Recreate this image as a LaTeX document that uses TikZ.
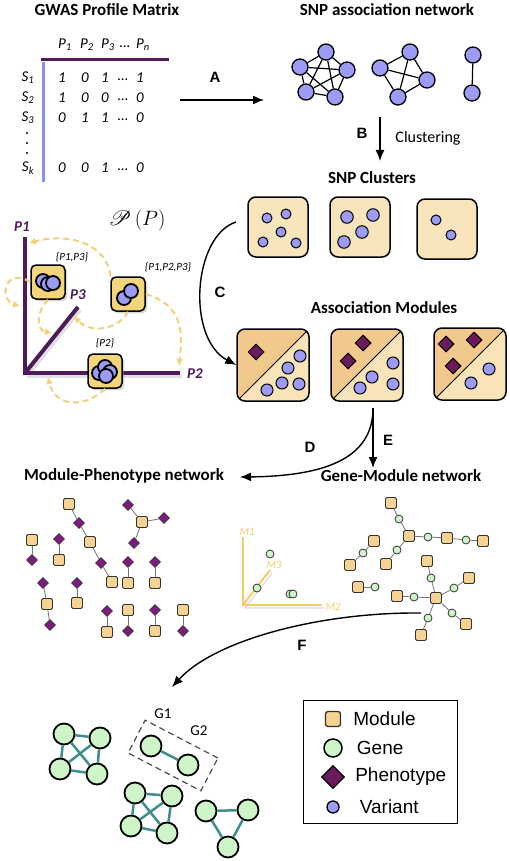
\documentclass[tikz,border=0pt]{standalone}
\usepackage{fontspec}
\usepackage{mathrsfs}
\setmainfont{Carlito}
\newfontfamily\arialfont{Liberation Sans}
\usetikzlibrary{arrows.meta}
\usetikzlibrary{shapes.geometric}
\usetikzlibrary{shadows}
\usetikzlibrary{positioning}
\usetikzlibrary{calc}
\definecolor{snpblue}{HTML}{9C9CF7}
\definecolor{axispurple}{HTML}{4E1A5A}
\definecolor{rowblue}{HTML}{8C8CFF}
\definecolor{clusterfill}{HTML}{F8E5BC}
\definecolor{moddark}{HTML}{F2C98C}
\definecolor{modlight}{HTML}{F8E4B8}
\definecolor{phenodark}{HTML}{6B1B5C}
\definecolor{netpurple}{HTML}{801A80}
\definecolor{netsquare}{HTML}{F6D392}
\definecolor{genegreen}{HTML}{CDF5C8}
\definecolor{edgeteal}{HTML}{3E8E8E}
\definecolor{setgold}{HTML}{F3D57B}
\definecolor{dashgold}{HTML}{F2D07A}
\definecolor{maxis}{HTML}{F5CB6A}
\tikzset{
  % Common styles for the figure
  heading/.style={font=\bfseries\fontsize{17}{20}\selectfont},
  steptag/.style={font=\arialfont\bfseries\fontsize{15}{18}\selectfont},
  line/.style={draw, line width=1.4pt, -{Latex[length=11pt,width=9pt]}},
  mtext/.style={font=\itshape\fontsize{15}{18}\selectfont, inner sep=0pt}
}
\begin{document}
\begin{tikzpicture}[x=1pt, y=-1pt]
    \useasboundingbox (0,0) rectangle (510,861);
    % Define styles
    \tikzstyle{snp} = [circle, draw, line width=1.3pt, fill=snpblue, minimum size=16pt, inner sep=0pt]
    \tikzstyle{snpedge} = [draw, line width=1.2pt]
    \tikzstyle{dot} = [circle, draw, line width=1pt, fill=snpblue, minimum size=#1, inner sep=0pt]
    \tikzstyle{clusterbox} = [rectangle, draw, line width=1.5pt, fill=clusterfill, rounded corners=8pt, minimum size=60pt]
    \tikzstyle{modbox} = [rectangle, draw, line width=1.5pt, fill=moddark, rounded corners=8pt, minimum size=72pt,
      path picture={\fill[modlight] (path picture bounding box.south west) -- (path picture bounding box.north east) -- (path picture bounding box.south east) -- cycle;
        \draw[line width=1pt] (path picture bounding box.south west) -- (path picture bounding box.north east);}]
    \tikzstyle{pheno} = [diamond, draw, line width=1pt, fill=phenodark, minimum size=16pt, inner sep=0pt]
    \tikzstyle{setbox} = [rectangle, draw, line width=1.5pt, fill=setgold, rounded corners=5pt, minimum size=34pt, drop shadow={opacity=0.3}]
    \tikzstyle{blob} = [circle, draw, line width=1.8pt, fill=snpblue, minimum size=14pt, inner sep=0pt]
    \tikzstyle{setlab} = [font=\itshape\fontsize{11}{13}\selectfont, inner sep=0pt]
    \tikzstyle{axlab} = [font=\bfseries\itshape\fontsize{15}{18}\selectfont, text=axispurple, inner sep=0pt]
    \tikzstyle{setarrow} = [draw=dashgold, line width=2pt, dash pattern=on 6pt off 4pt, -{Latex[length=7pt,width=7pt]}]
    \tikzstyle{msq} = [rectangle, draw=black!80, line width=0.8pt, fill=netsquare, rounded corners=1.5pt, minimum size=11pt, inner sep=0pt]
    \tikzstyle{mdia} = [diamond, draw=black!80, line width=0.7pt, fill=netpurple, minimum size=11pt, inner sep=0pt]
    \tikzstyle{gcirc} = [circle, draw=black!80, line width=0.8pt, fill=genegreen, minimum size=8pt, inner sep=0pt]
    \tikzstyle{netedge} = [draw=black!55, line width=0.8pt]
    \tikzstyle{gene} = [circle, draw, line width=1.8pt, fill=genegreen, minimum size=21pt, inner sep=0pt]
    \tikzstyle{geneedge} = [draw=edgeteal, line width=2.5pt]
    \tikzstyle{legtext} = [font=\arialfont\fontsize{19}{22}\selectfont, inner sep=0pt]

    % Titles
    \node [heading] (gwas) at (107,10) {GWAS Profile Matrix};
    \node [heading] (snpnet) at (387,10) {SNP association network};
    \node [heading] (snpclu) at (372,178) {SNP Clusters};
    \node [heading] (assoc) at (384,308) {Association Modules};
    \node [heading] (modphen) at (124,476) {Module-Phenotype network};
    \node [heading] (genemod) at (401,476) {Gene-Module network};

    % Profile matrix
    \draw [axispurple, line width=3pt] (41,60) -- (169,60);
    \draw [rowblue, line width=3pt] (43,62) -- (43,182);
    \foreach \lab/\x in {1/65, 2/87, 3/108, n/143}
        \node [mtext] (p\lab) at (\x,45) {P\textsubscript{\lab}};
    \node [mtext] (pdots) at (125,47) {…};
    \foreach \lab/\y/\a/\b/\c/\d in {1/78/1/0/1/1, 2/98/1/0/0/0, 3/118/0/1/1/0, k/168/0/0/1/0} {
        \node [mtext] (s\lab) at (28,\y) {S\textsubscript{\lab}};
        \node [mtext] (v\lab a) at (62,\y) {\a};
        \node [mtext] (v\lab b) at (85,\y) {\b};
        \node [mtext] (v\lab c) at (105,\y) {\c};
        \node [mtext] (v\lab e) at (123,\y+2) {…};
        \node [mtext] (v\lab d) at (140,\y) {\d};
    }
    \foreach \y in {133,143,153}
        \fill (27,\y) circle (1.1pt);

    % SNP association network
    \foreach \n/\x/\y in {a1/326/52, a2/347/70, a3/335/97, a4/306/92, a5/300/67, b1/410/52, b2/427/80, b3/398/97, b4/380/68, c1/473/55, c2/472/93}
        \node [snp] (\n) at (\x,\y) {};
    \foreach \a/\b in {a1/a2, a1/a3, a1/a4, a1/a5, a2/a3, a2/a4, a2/a5, a3/a4, a3/a5, a4/a5, b1/b2, b1/b3, b1/b4, b2/b3, b2/b4, b3/b4, c1/c2}
        \path [snpedge] (\a) -- (\b);

    % Steps A and B
    \coordinate (astart) at (180,100);
    \coordinate (aend) at (264,100);
    \path [line] (astart) -- (aend);
    \node [steptag] (ta) at (215,77) {A};
    \coordinate (bstart) at (380,117);
    \coordinate (bend) at (380,161);
    \path [line] (bstart) -- (bend);
    \node [steptag] (tb) at (362,133) {B};
    \node [font=\fontsize{16}{19}\selectfont] (clust) at (428,138) {Clustering};

    % SNP clusters
    \node [clusterbox] (sc1) at (278,227) {};
    \node [clusterbox] (sc2) at (360,227) {};
    \node [clusterbox] (sc3) at (447,229) {};
    \foreach \x/\y [count=\i] in {267/218, 286/214, 281/232, 263/242, 296/243, 436/220, 451/235}
        \node [dot=10pt] (d\i) at (\x,\y) {};
    \foreach \x/\y [count=\i] in {347/217, 373/215, 362/232, 344/242}
        \node [dot=12.5pt] (e\i) at (\x,\y) {};

    % Association modules
    \node [modbox] (am1) at (273,365) {};
    \node [modbox] (am2) at (367,365) {};
    \node [modbox] (am3) at (470,364) {};
    \foreach \x/\y [count=\i] in {256/352, 363/343, 348/361, 446/344, 474/340, 453/366}
        \node [pheno] (f\i) at (\x,\y) {};
    \foreach \x/\y [count=\i] in {300/356, 288/368, 267/390, 282/383, 299/384, 393/363, 372/377, 360/388, 393/384, 489/369, 471/383}
        \node [dot=12pt] (h\i) at (\x,\y) {};

    % Step C
    \coordinate (cstart) at (236,222);
    \path [line] (cstart) .. controls (193,236) and (186,338) .. (am1.west);
    \node [steptag] (tc) at (220,292) {C};

    % Power set of phenotypes
    \node [font=\fontsize{22}{26}\selectfont] (pset) at (137,220) {$\mathscr{P}\,(P)$};
    \coordinate (origin) at (25,373);
    \coordinate (p1end) at (25,237);
    \coordinate (p2end) at (180,373);
    \coordinate (p3end) at (78,307);
    \draw [black!12, line width=4pt] ($(origin)+(2,3)$) -- ($(p2end)+(2,3)$);
    \draw [black!12, line width=4pt] ($(origin)+(2,3)$) -- ($(p3end)+(2,3)$);
    \draw [axispurple, line width=4pt] (p1end) -- (origin) -- (p2end);
    \draw [axispurple, line width=4pt] (origin) -- (p3end);
    \node [axlab] (lp1) at (22,227) {P1};
    \node [axlab] (lp2) at (195,374) {P2};
    \node [axlab] (lp3) at (78,295) {P3};
    \node [setbox] (s13) at (48,282) {};
    \node [setbox] (s123) at (128,294) {};
    \node [setbox] (s2) at (105,371) {};
    \foreach \dx/\dy in {-5/-1, 0/2, 5/1}
        \node [blob] at ($(s13)+(\dx,\dy)$) {};
    \foreach \dx/\dy in {-4/4, 3/-3}
        \node [blob] at ($(s123)+(\dx,\dy)$) {};
    \foreach \dx/\dy in {-6/2, 0/-4, 5/1, 1/5}
        \node [blob] at ($(s2)+(\dx,\dy)$) {};
    \node [setlab] (l13) at (72,257) {\{P1,P3\}};
    \node [setlab] (l123) at (168,267) {\{P1,P2,P3\}};
    \node [setlab] (l2) at (105,343) {\{P2\}};
    \path [setarrow] (s123.north west) .. controls (108,245) and (70,232) .. ($(p1end)+(4,6)$);
    \path [setarrow] (s13.west) .. controls (4,266) and (-1,300) .. (20,306);
    \path [setarrow] (s13.south) .. controls (36,312) and (36,330) .. (52,333);
    \path [setarrow] (s123.south) .. controls (118,330) and (90,334) .. ($(p3end)+(-4,9)$);
    \path [setarrow] (s123.east) .. controls (182,305) and (183,330) .. ($(p2end)+(-1,-7)$);
    \path [setarrow] (s2.south) .. controls (86,408) and (55,408) .. ($(origin)+(23,4)$);

    % Steps D and E
    \coordinate (destart) at (373,408);
    \coordinate (dend) at (240,477);
    \coordinate (eend) at (373,468);
    \path [line] (destart) .. controls (373,456) and (330,476) .. (dend);
    \path [line] (destart) -- (eend);
    \node [steptag] (td) at (310,447) {D};
    \node [steptag] (te) at (388,440) {E};

    % Module-Phenotype network
    \foreach \n/\x/\y in {mpm1/69/504, mpm2/90/542, mpm3/112/582, mpm4/142/522, mpm5/32/540, mpm6/59/560, mpm7/128/583, mpm8/155/583, mpm9/47/604, mpm10/77/603, mpm11/107/632, mpm12/128/610, mpm13/155/631, mpm14/183/610}
        \node [msq] (\n) at (\x,\y) {};
    \foreach \n/\x/\y in {mpp1/79/523, mpp2/101/563, mpp3/128/505, mpp4/164/518, mpp5/134/543, mpp6/32/560, mpp7/59/539, mpp8/128/562, mpp9/155/562, mpp10/43/583, mpp11/50/625, mpp12/77/583, mpp13/107/611, mpp14/128/631, mpp15/155/610, mpp16/183/631}
        \node [mdia] (\n) at (\x,\y) {};
    \foreach \a/\b in {mpm1/mpp1, mpp1/mpm2, mpm2/mpp2, mpp2/mpm3, mpm4/mpp3, mpm4/mpp4, mpm4/mpp5, mpm5/mpp6, mpp7/mpm6, mpp8/mpm7, mpp9/mpm8, mpp10/mpm9, mpm9/mpp11, mpp12/mpm10, mpp13/mpm11, mpm12/mpp14, mpp15/mpm13, mpm14/mpp16}
        \path [netedge] (\a) -- (\b);

    % Module space
    \coordinate (morigin) at (243,605);
    \coordinate (m1end) at (243,537);
    \coordinate (m2end) at (322,605);
    \coordinate (m3end) at (270,570);
    \draw [black!10, line width=2pt] ($(morigin)+(2,3)$) -- ($(m2end)+(2,3)$);
    \draw [black!10, line width=2pt] ($(morigin)+(2,3)$) -- ($(m3end)+(2,3)$);
    \draw [maxis, line width=2pt] (m1end) -- (morigin) -- (m2end);
    \draw [maxis, line width=2pt] (morigin) -- (m3end);
    \foreach \lab/\x/\y in {M1/247/532, M2/333/607, M3/274/565}
        \node [font=\itshape\fontsize{11}{13}\selectfont, text=maxis, inner sep=0pt] (l\lab) at (\x,\y) {\lab};
    \foreach \x/\y [count=\i] in {270/554, 257/588, 290/594, 293/594}
        \node [gcirc] (mp\i) at (\x,\y) {};

    % Gene-Module network
    \foreach \n/\x/\y in {gmm1/391/503, gmm2/409/536, gmm3/447/538, gmm4/483/541, gmm5/386/564, gmm6/374/541, gmm7/350/565, gmm8/358/587, gmm9/436/598, gmm10/427/561, gmm11/469/578, gmm12/397/596, gmm13/466/624, gmm14/421/635}
        \node [msq] (\n) at (\x,\y) {};
    \foreach \n/\x/\y in {gmg1/399/519, gmg2/428/537, gmg3/466/540, gmg4/397/550, gmg5/363/553, gmg6/375/587, gmg7/431/578, gmg8/454/588, gmg9/414/597, gmg10/452/613, gmg11/428/618}
        \node [gcirc] (\n) at (\x,\y) {};
    \foreach \a/\b in {gmm1/gmg1, gmg1/gmm2, gmm2/gmg2, gmg2/gmm3, gmm3/gmg3, gmg3/gmm4, gmm2/gmg4, gmg4/gmm5, gmm6/gmg5, gmg5/gmm7, gmm8/gmg6, gmm9/gmg7, gmg7/gmm10, gmm9/gmg8, gmg8/gmm11, gmm9/gmg9, gmg9/gmm12, gmm9/gmg10, gmg10/gmm13, gmm9/gmg11, gmg11/gmm14}
        \path [netedge] (\a) -- (\b);

    % Step F
    \coordinate (fstart) at (421,613);
    \coordinate (fend) at (172,687);
    \path [line] (fstart) .. controls (320,612) and (215,640) .. (fend);
    \node [steptag] (tf) at (302,645) {F};

    % Gene clusters
    \foreach \n/\x/\y in {ga/64/734, gb/100/738, gc/60/769, gd/97/774, g1/151/746, g2/188/765, ha/135/793, hb/172/796, hc/131/826, hd/167/833, ta/206/811, tb/248/810, tc/228/847}
        \node [gene] (\n) at (\x,\y) {};
    \foreach \a/\b in {ga/gb, ga/gc, ga/gd, gb/gc, gb/gd, gc/gd, g1/g2, ha/hb, ha/hc, ha/hd, hb/hc, hb/hd, hc/hd, ta/tb, tb/tc, tc/ta}
        \path [geneedge] (\a) -- (\b);
    \node [draw=black!70, dashed, line width=1.2pt, dash pattern=on 6pt off 4pt, rotate=-27.5, minimum width=82pt, minimum height=37pt] (gbox) at (173,755.5) {};
    \node [font=\fontsize{15}{18}\selectfont, inner sep=0pt] (lg1) at (163,714) {G1};
    \node [font=\fontsize{15}{18}\selectfont, inner sep=0pt] (lg2) at (199,731) {G2};

    % Legend
    \node [draw, line width=1pt, minimum width=154pt, minimum height=123pt] (legend) at (380,761.5) {};
    \node [msq, minimum size=15pt, line width=1.3pt, rounded corners=2.5pt] (lmod) at (333,719) {};
    \node [circle, draw, line width=1.5pt, fill=genegreen, minimum size=18pt, inner sep=0pt] (lgene) at (333,748) {};
    \node [diamond, draw, line width=1.2pt, fill=phenodark, minimum size=23pt, inner sep=0pt] (lphen) at (333,777) {};
    \node [dot=12pt, line width=1.3pt] (lvar) at (333,807) {};
    \node [legtext, right=12pt of lmod] (tmod) {Module};
    \node [legtext, right=14pt of lgene] (tgene) {Gene};
    \node [legtext, right=10pt of lphen] (tphen) {Phenotype};
    \node [legtext, right=20pt of lvar] (tvar) {Variant};
\end{tikzpicture}
\end{document}
